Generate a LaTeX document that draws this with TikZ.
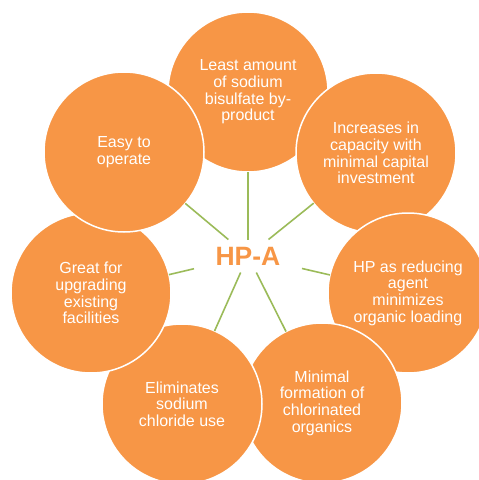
\documentclass[tikz,border=0pt]{standalone}
\usepackage{fontspec}
\setmainfont{Liberation Sans}
\definecolor{orng}{HTML}{F79646}
\definecolor{spokegreen}{HTML}{9BBB59}
\begin{document}
\begin{tikzpicture}[x=1pt,y=-1pt,
  bubble/.style={circle, fill=orng, draw=white, line width=1.5pt, minimum size=160pt,
    inner sep=0pt, outer sep=0pt, text=white, align=center,
    font=\fontsize{16}{16.7}\selectfont},
  link/.style={draw=spokegreen, line width=1.6pt},
  hubtext/.style={text=orng, font=\bfseries\fontsize{26.5}{27}\selectfont,
    minimum width=108pt, minimum height=33pt, inner sep=0pt, outer sep=0pt}]
\useasboundingbox (0,0) rectangle (479,480);
\clip (0,0) rectangle (479,480);
\node[bubble] (c1) at (248,92) {Least amount\\of sodium\\bisulfate by-\\product};
\node[bubble] (c2) at (376,153) {Increases in\\capacity with\\minimal capital\\investment};
\node[bubble] (c3) at (408,293) {HP as reducing\\agent\\minimizes\\organic loading};
\node[bubble] (c4) at (322,403) {Minimal\\formation of\\chlorinated\\organics};
\node[bubble] (c5) at (182,404) {Eliminates\\sodium\\chloride use};
\node[bubble] (c6) at (91,293) {Great for\\upgrading\\existing\\facilities};
\node[bubble] (c7) at (124,152) {Easy to\\operate};
\node[hubtext] (hub) at (248,256) {HP-A};
\foreach \n in {c1,c2,c3,c4,c5,c6,c7} \draw[link] (hub) -- (\n);
\end{tikzpicture}
\end{document}
